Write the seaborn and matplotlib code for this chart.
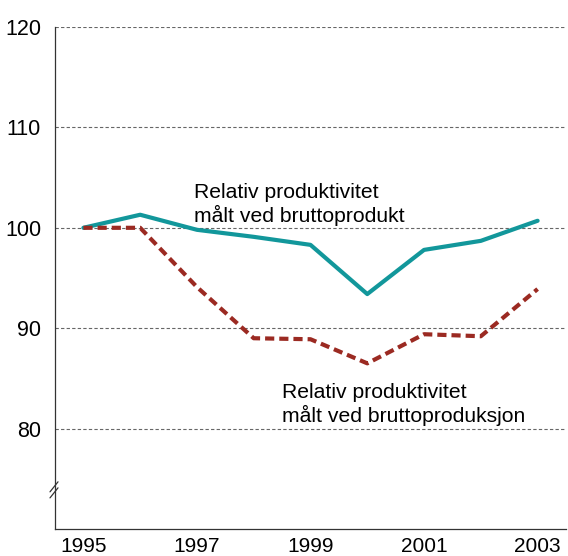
import matplotlib
matplotlib.use("Agg")
import matplotlib.pyplot as plt
import seaborn as sns
import pandas as pd

years = [1995, 1996, 1997, 1998, 1999, 2000, 2001, 2002, 2003]
bruttoprodukt = [100.0, 101.3, 99.8, 99.1, 98.3, 93.4, 97.8, 98.7, 100.7]
bruttoproduksjon = [100.0, 100.0, 94.1, 89.0, 88.9, 86.5, 89.4, 89.2, 93.9]
yticks = [80, 90, 100, 110, 120]
xlabels = [1995, 1997, 1999, 2001, 2003]

sns.set_theme(style="white")
plt.rcParams["font.family"] = ["Liberation Sans", "DejaVu Sans"]

df = pd.DataFrame({"year": years, "a": bruttoprodukt, "b": bruttoproduksjon})

fig = plt.figure(figsize=(5.68, 5.56), dpi=100)
ax = fig.add_axes([55/568, 27/556, 511/568, 502/556])

for y in yticks:
    ax.axhline(y, color="#666666", lw=0.8, ls=(0, (3, 2)), zorder=0)

sns.lineplot(data=df, x="year", y="a", ax=ax, color="#12979b", lw=3.0)
sns.lineplot(data=df, x="year", y="b", ax=ax, color="#9b2a22", lw=3.0,
             linestyle=(0, (2.2, 1.2)))

ax.set_xlim(1994.5, 2003.5)
ax.set_ylim(70, 120)
ax.set_yticks(yticks)
ax.set_yticklabels([str(v) for v in yticks], fontsize=15.5, color="black")
ax.set_xticks(years)
ax.set_xticklabels([str(y) if y in xlabels else "" for y in years],
                   fontsize=15, color="black")
ax.tick_params(axis="x", direction="in", length=12, width=0.8, color="#333333", pad=5.5)
ax.tick_params(axis="y", length=0, pad=10)
ax.set_xlabel("")
ax.set_ylabel("")
for s in ["top", "right"]:
    ax.spines[s].set_visible(False)
for s in ["left", "bottom"]:
    ax.spines[s].set_color("#333333")
    ax.spines[s].set_linewidth(0.9)

ax.text(1996.95, 102.3, "Relativ produktivitet\nmålt ved bruttoprodukt",
        fontsize=15.2, color="black", ha="left", va="center", linespacing=1.15)
ax.text(1998.5, 82.4, "Relativ produktivitet\nmålt ved bruttoproduksjon",
        fontsize=15.2, color="black", ha="left", va="center", linespacing=1.15)

# axis break marks
for off in (0.0, 0.012):
    ax.plot([-0.0098, 0.0059], [0.062 + off, 0.082 + off],
            transform=ax.transAxes, color="#333333", lw=0.9, clip_on=False)

fig.savefig("out.png", dpi=100)
